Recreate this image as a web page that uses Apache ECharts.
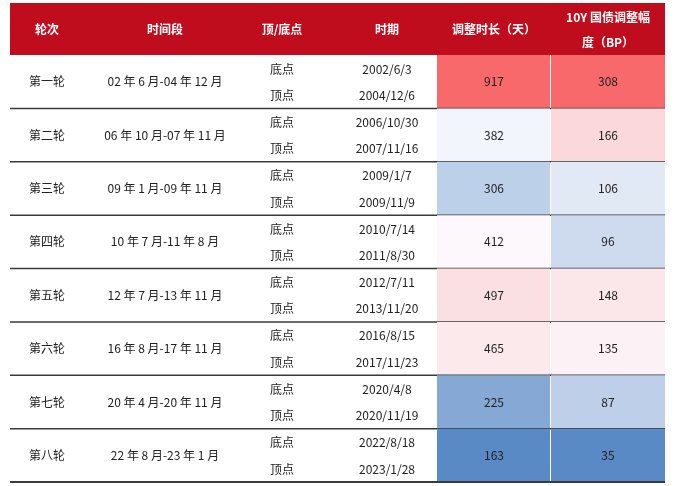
<!DOCTYPE html>
<html><head><meta charset="utf-8">
<script src="https://cdn.jsdelivr.net/npm/echarts@6/dist/echarts.min.js"></script>
<style>html,body{margin:0;padding:0;background:#fff}#c{width:676px;height:486px}</style>
</head><body><div id="c"></div>
<script>
const headers = ['轮次','时间段','顶/底点','时期','调整时长（天）','10Y 国债调整幅\n度（BP）'];
const rounds = ['第一轮','第二轮','第三轮','第四轮','第五轮','第六轮','第七轮','第八轮'];
const periods = ['02 年 6 月-04 年 12 月','06 年 10 月-07 年 11 月','09 年 1 月-09 年 11 月','10 年 7 月-11 年 8 月','12 年 7 月-13 年 11 月','16 年 8 月-17 年 11 月','20 年 4 月-20 年 11 月','22 年 8 月-23 年 1 月'];
const pointLabels = ['底点','顶点'];
const bottomDates = ['2002/6/3','2006/10/30','2009/1/7','2010/7/14','2012/7/11','2016/8/15','2020/4/8','2022/8/18'];
const topDates = ['2004/12/6','2007/11/16','2009/11/9','2011/8/30','2013/11/20','2017/11/23','2020/11/19','2023/1/28'];
const durations = [917,382,306,412,497,465,225,163];
const bpChanges = [308,166,106,96,148,135,87,35];

function median(a){const s=[...a].sort((x,y)=>x-y);const n=s.length;return n%2?s[(n-1)/2]:(s[n/2-1]+s[n/2])/2;}
function mix(c1,c2,t){return 'rgb('+c1.map((v,i)=>Math.round(v+(c2[i]-v)*t)).join(',')+')';}
const BLUE=[90,138,198], WHITE=[252,252,255], RED=[248,105,107];
function scaleColor(v,arr){const mn=Math.min(...arr),mx=Math.max(...arr),md=median(arr);
  if(v>=md) return mix(WHITE,RED,(v-md)/(mx-md)); return mix(WHITE,BLUE,(md-v)/(md-mn));}

const X0=10,X1=665,HT=3,HB=55,BOT=482;
const colC=[47,165,282,387,494,608];
const cellX=[437,551,665];
const rowH=(BOT-HB)/rounds.length;
const font='"Noto Sans CJK SC","Noto Sans",sans-serif';
const chart=echarts.init(document.getElementById('c'));
function rect(api,x0,y0,x1,y1,fill){const a=api.coord([x0,y0]),b=api.coord([x1,y1]);
  return {type:'rect',shape:{x:a[0],y:a[1],width:b[0]-a[0],height:b[1]-a[1]},style:{fill}};}
function txt(api,x,y,t,o){const p=api.coord([x,y]);return {type:'text',x:p[0],y:p[1],style:Object.assign({text:t,fill:'#222',font:'12px '+font,align:'center',verticalAlign:'middle'},o||{})};}
function hline(api,y,w){const a=api.coord([X0,y]),b=api.coord([X1,y]);return {type:'line',shape:{x1:a[0],y1:a[1],x2:b[0],y2:b[1]},style:{stroke:'#3a3a3a',lineWidth:w}};}
chart.setOption({
  animation:false,
  grid:{left:0,right:0,top:0,bottom:0},
  xAxis:{type:'value',min:0,max:676,show:false},
  yAxis:{type:'value',min:0,max:486,inverse:true,show:false},
  series:[{type:'custom',data:[-1].concat(rounds.map((r,i)=>i)),
    renderItem:function(params,api){
      const i=api.value(0);
      if(i<0){
        const ch=[rect(api,X0,HT,X1,HB,'#c00d1e')];
        headers.forEach((h,k)=>{
          if(k===5){ch.push(txt(api,colC[k],17,'10Y 国债调整幅',{fill:'#fff',font:'bold 12px '+font}));
                    ch.push(txt(api,colC[k],42,'度（BP）',{fill:'#fff',font:'bold 12px '+font}));}
          else ch.push(txt(api,colC[k],29,h,{fill:'#fff',font:'bold 12px '+font}));
        });
        return {type:'group',children:ch};
      }
      const y0=HB+i*rowH,y1=y0+rowH,ym=(y0+y1)/2;
      const ch=[
        rect(api,cellX[0],y0,cellX[1]-1,y1,scaleColor(durations[i],durations)),
        rect(api,cellX[1],y0,cellX[2],y1,scaleColor(bpChanges[i],bpChanges)),
        txt(api,colC[0],ym,rounds[i]),
        txt(api,colC[1],ym,periods[i]),
        txt(api,colC[2],y0+14,pointLabels[0]),
        txt(api,colC[2],y1-13,pointLabels[1]),
        txt(api,colC[3],y0+14,bottomDates[i]),
        txt(api,colC[3],y1-13,topDates[i]),
        txt(api,colC[4],ym,String(durations[i])),
        txt(api,colC[5],ym,String(bpChanges[i])),
        hline(api,y1,i===rounds.length-1?2:1.5)
      ];
      return {type:'group',children:ch};
    }}]
});
</script></body></html>
